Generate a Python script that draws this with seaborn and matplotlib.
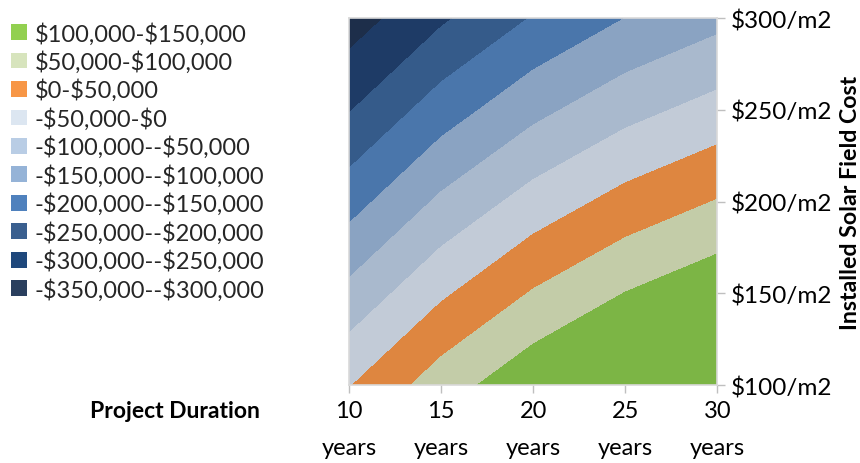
import matplotlib.pyplot as plt
import matplotlib.tri as mtri
import numpy as np
import seaborn as sns
from matplotlib.colors import ListedColormap
from matplotlib.patches import Patch

# grid of the surface: project duration (years) x installed solar field cost ($/m2)
durations = [10, 15, 20, 25, 30]
costs = [100, 150, 200, 250, 300]

# net value ($), one list per cost row, ordered by duration
npv_cost_100 = [-3000, 76000, 137000, 184000, 219000]
npv_cost_150 = [-86000, -8000, 54000, 101000, 136000]
npv_cost_200 = [-170000, -91000, -30000, 17000, 52000]
npv_cost_250 = [-253000, -175000, -114000, -67000, -32000]
npv_cost_300 = [-325000, -258000, -197000, -150000, -115000]

band_edges = [-350000, -300000, -250000, -200000, -150000, -100000,
              -50000, 0, 50000, 100000, 150000]

band_labels = [
    r"-\$350,000--\$300,000",
    r"-\$300,000--\$250,000",
    r"-\$250,000--\$200,000",
    r"-\$200,000--\$150,000",
    r"-\$150,000--\$100,000",
    r"-\$100,000--\$50,000",
    r"-\$50,000-\$0",
    r"\$0-\$50,000",
    r"\$50,000-\$100,000",
    r"\$100,000-\$150,000",
]

x_tick_labels = ["10\nyears", "15\nyears", "20\nyears", "25\nyears", "30\nyears"]
y_tick_labels = [r"\$100/m2", r"\$150/m2", r"\$200/m2", r"\$250/m2", r"\$300/m2"]

# shaded colours as drawn on the surface, and the flat legend swatches
surface_colors = ["#1d2e4a", "#1e3b66", "#355b8a", "#4a76ab", "#8aa3c2",
                  "#a9b9cd", "#c2cbd7", "#de8640", "#c3cca8", "#7cb545"]
legend_colors = ["#2a3f5e", "#1f487c", "#3a5f8f", "#4f81bd", "#95b3d7",
                 "#b9cde5", "#dce6f1", "#f79646", "#d7e4bd", "#92d050"]

sns.set_theme(style="white")
plt.rcParams["font.family"] = ["Lato", "DejaVu Sans"]

# build the triangulated surface (each cell split along its rising diagonal)
rows = [npv_cost_100, npv_cost_150, npv_cost_200, npv_cost_250, npv_cost_300]
gx, gy = np.meshgrid(durations, costs)
z = np.array(rows, dtype=float).ravel()
nx, ny = len(durations), len(costs)
triangles = []
for j in range(ny - 1):
    for i in range(nx - 1):
        a = j * nx + i
        b = a + 1
        c = a + nx
        d = c + 1
        triangles.append([a, b, d])
        triangles.append([a, d, c])
tri = mtri.Triangulation(gx.ravel(), gy.ravel(), triangles)

cmap = ListedColormap(surface_colors)
cmap.set_over(surface_colors[-1])

fig = plt.figure(figsize=(8.6, 4.64), dpi=100)
ax = fig.add_axes([0.406, 0.168, 0.428, 0.791])

ax.tricontourf(tri, z, levels=band_edges, cmap=cmap, extend="max")

ax.set_xlim(durations[0], durations[-1])
ax.set_ylim(costs[0], costs[-1])

ax.set_xticks(durations, labels=x_tick_labels)
ax.set_yticks(costs, labels=y_tick_labels)
ax.yaxis.tick_right()
ax.yaxis.set_label_position("right")

for lab in ax.get_xticklabels():
    lab.set_linespacing(1.9)

ax.tick_params(axis="x", bottom=True, length=6, width=1, color="#bfbfbf",
               labelsize=17, pad=5, labelcolor="black")
ax.tick_params(axis="y", right=True, left=False, length=6, width=1,
               color="#bfbfbf", labelsize=17.5, pad=4, labelcolor="black")

for side, sp in ax.spines.items():
    sp.set_visible(True)
    sp.set_color("#d9d9d9")
    sp.set_linewidth(1.2)

ax.set_ylabel("Installed Solar Field Cost", fontsize=16.7, fontweight="bold",
              color="black")
ax.yaxis.set_label_coords(1.361, 0.5)
ax.yaxis.label.set_horizontalalignment("center")
ax.yaxis.label.set_verticalalignment("center")

ax.set_xlabel("Project Duration", fontsize=16.5, fontweight="bold", color="black")
ax.xaxis.set_label_coords(-0.473, -0.07)
ax.xaxis.label.set_verticalalignment("center")

handles = [Patch(facecolor=col, edgecolor="none") for col in legend_colors[::-1]]
fig.legend(
    handles,
    band_labels[::-1],
    loc="upper left",
    bbox_to_anchor=(0.013, 0.951),
    frameon=False,
    fontsize=17,
    handlelength=0.65,
    handleheight=0.65,
    handletextpad=0.35,
    labelspacing=0.245,
    borderpad=0,
    borderaxespad=0,
)

fig.savefig("out.png", dpi=100)
